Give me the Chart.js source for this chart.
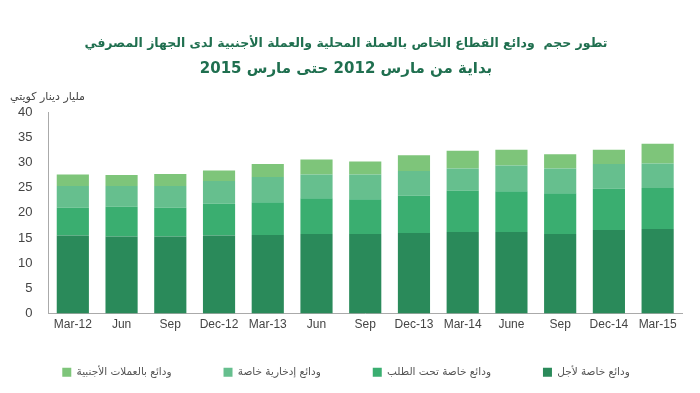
<!DOCTYPE html>
<html>
<head>
<meta charset="utf-8">
<script src="https://cdn.jsdelivr.net/npm/chart.js@4/dist/chart.umd.min.js"></script>
<style>
  html, body { margin: 0; padding: 0; background: #fff; }
  #wrap { width: 700px; height: 393px; position: relative; }
</style>
</head>
<body>
<div id="wrap"><canvas id="myChart"></canvas></div>
<script>
// بيانات الرسم (مليار دينار كويتي)
const labels = ['Mar-12', 'Jun', 'Sep', 'Dec-12', 'Mar-13', 'Jun', 'Sep', 'Dec-13', 'Mar-14', 'June', 'Sep', 'Dec-14', 'Mar-15'];
const yTicks = [0, 5, 10, 15, 20, 25, 30, 35, 40];

const ajal = [15.5, 15.3, 15.3, 15.5, 15.6, 15.8, 15.8, 16.0, 16.2, 16.2, 15.8, 16.6, 16.8];      // ودائع خاصة لأجل
const talab = [5.5, 5.9, 5.7, 6.3, 6.5, 7.1, 6.9, 7.4, 8.2, 8.1, 8.1, 8.2, 8.1];                 // ودائع خاصة تحت الطلب
const idkhar = [4.3, 4.1, 4.3, 4.5, 5.0, 4.7, 4.9, 4.9, 4.4, 5.1, 4.9, 4.9, 4.9];                // ودائع إدخارية خاصة
const ajnabi = [2.3, 2.2, 2.4, 2.1, 2.6, 3.0, 2.6, 3.1, 3.5, 3.1, 2.8, 2.8, 3.9];                // ودائع بالعملات الأجنبية

const seriesNames = ['ودائع خاصة لأجل', 'ودائع خاصة تحت الطلب', 'ودائع إدخارية خاصة', 'ودائع بالعملات الأجنبية'];
const colors = ['#2a8a5a', '#3aae70', '#66bf8e', '#7ec57a'];

const legendPad = 52;

// عنوان المحور (أعلى يسار)
const unitLabel = {
    id: 'unitLabel',
    afterDraw(chart) {
        const ctx = chart.ctx;
        ctx.save();
        ctx.font = '11px "DejaVu Sans"';
        ctx.fillStyle = '#444';
        ctx.textAlign = 'left';
        ctx.textBaseline = 'middle';
        ctx.fillText('مليار دينار كويتي', 10, 97);
        ctx.restore();
    }
};

// المسافة الأفقية بين عناصر المفتاح كبيرة، فنرفع المفتاح قليلا تحت المحور
const legendShift = {
    id: 'legendShift',
    afterLayout(chart) {
        const l = chart.legend;
        const shift = 372 - (l.top + legendPad + 5);
        l.top += shift;
        l.bottom = Math.max(l.bottom + shift, l.top + legendPad + 16);
    }
};

const series = [ajal, talab, idkhar, ajnabi];

new Chart(document.getElementById('myChart'), {
    type: 'bar',
    data: {
        labels: labels,
        datasets: series.map((d, i) => ({
            label: seriesNames[i],
            data: d,
            backgroundColor: colors[i],
            borderWidth: 0,
            barPercentage: 0.66,
            categoryPercentage: 1
        }))
    },
    options: {
        responsive: true,
        maintainAspectRatio: false,
        animation: false,
        layout: { padding: { left: 10, right: 18, top: 0, bottom: 2 } },
        scales: {
            x: {
                stacked: true,
                grid: { display: false, drawTicks: false },
                border: { display: true, color: '#aaa' },
                ticks: { color: '#444', font: { family: 'Liberation Sans', size: 12 }, maxRotation: 0, autoSkip: false, padding: 4 }
            },
            y: {
                stacked: true,
                min: 0, max: 40,
                afterBuildTicks: axis => { axis.ticks = yTicks.map(v => ({ value: v })); },
                grid: { display: false },
                border: { display: true, color: '#aaa' },
                ticks: { color: '#444', font: { family: 'Liberation Sans', size: 13 }, padding: 8 }
            }
        },
        plugins: {
            title: {
                display: true,
                text: 'تطور حجم  ودائع القطاع الخاص بالعملة المحلية والعملة الأجنبية لدى الجهاز المصرفي',
                color: '#1f6f4f',
                font: { family: 'DejaVu Sans', size: 12.5, weight: 'bold' },
                padding: { top: 36, bottom: 9 }
            },
            subtitle: {
                display: true,
                text: 'بداية من مارس 2012 حتى مارس 2015',
                color: '#1f6f4f',
                font: { family: 'DejaVu Sans', size: 15, weight: 'bold' },
                padding: { top: 0, bottom: 34 }
            },
            legend: {
                position: 'bottom',
                reverse: true,
                maxHeight: 55,
                labels: {
                    boxWidth: 9, boxHeight: 9, padding: legendPad,
                    color: '#555',
                    font: { family: 'DejaVu Sans', size: 10.5 }
                }
            },
            tooltip: { enabled: false }
        }
    },
    plugins: [unitLabel, legendShift]
});
</script>
</body>
</html>
